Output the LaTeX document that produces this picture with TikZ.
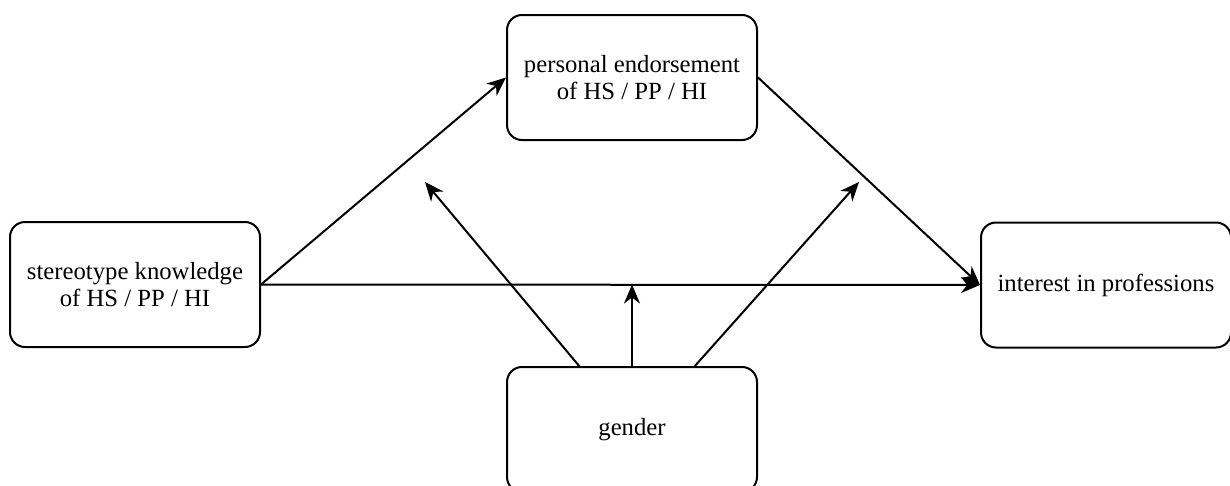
\documentclass[tikz,border=0pt]{standalone}
\usepackage{fontspec}
\setmainfont{Liberation Serif}
\usetikzlibrary{arrows.meta}
\begin{document}
\begin{tikzpicture}[x=1pt,y=-1pt,line width=2pt,font=\fontsize{24.7}{27.5}\selectfont,
  box/.style={draw,rounded corners=15pt,minimum width=250pt,minimum height=125pt,align=center,inner sep=0pt},
  arr/.style={-{Stealth[length=19pt,width=16pt,inset=6pt]}}]
\useasboundingbox (0,0) rectangle (1230,485);
\node[box](know)at(135,284.5){stereotype knowledge\\of HS / PP / HI};
\node[box](endorse)at(632,77.5){personal endorsement\\of HS / PP / HI};
\node[box](interest)at(1106,285){interest in professions};
\node[box](gender)at(632,429.5){gender};
\coordinate(modleft)at(425,182);
\coordinate(modright)at(859,182);
\draw[arr](know.east)--(endorse.west);
\draw[arr](endorse.east)--(interest.west);
\draw[arr](know.east)--(interest.west);
\draw[arr](gender.north)--(gender.north|-know.east);
\draw[arr](580,367)--(modleft);
\draw[arr](694,367)--(modright);
\end{tikzpicture}
\end{document}
